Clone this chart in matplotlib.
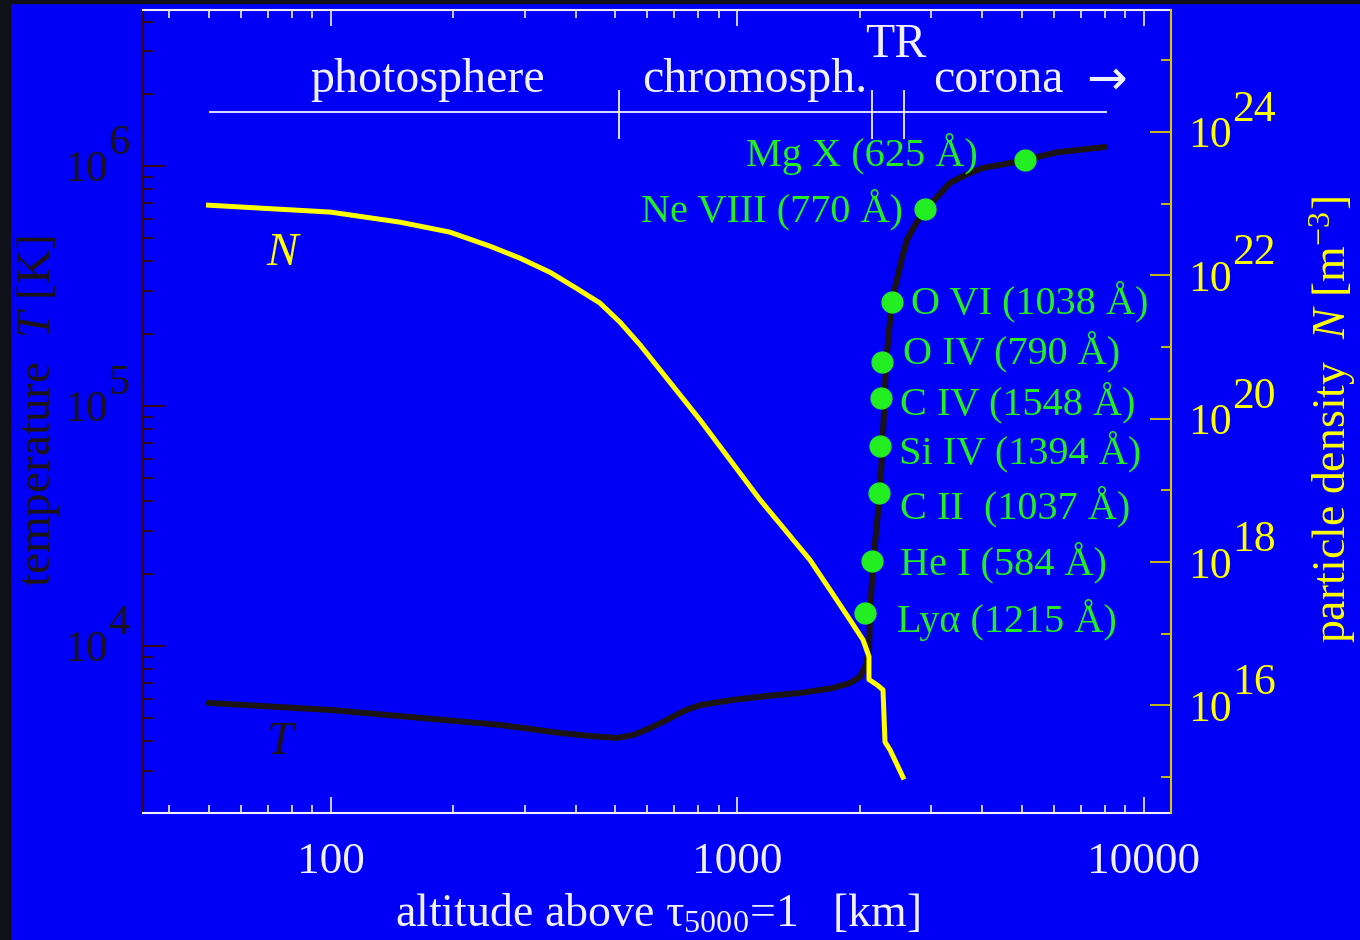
import numpy as np
import matplotlib
matplotlib.use('Agg')
import matplotlib.pyplot as plt
from matplotlib.ticker import LogLocator, FuncFormatter, NullFormatter, FixedLocator
from matplotlib.patches import Rectangle

plt.rcParams['font.family'] = ['Liberation Serif', 'DejaVu Serif']
plt.rcParams['mathtext.fontset'] = 'custom'
plt.rcParams['mathtext.rm'] = 'Liberation Serif'
plt.rcParams['mathtext.it'] = 'Liberation Serif:italic'
plt.rcParams['mathtext.bf'] = 'Liberation Serif:bold'

# ---------------- data ----------------
# temperature profile (altitude in km, T in K)
T_alt = [50, 100, 260, 366, 459, 506, 553, 610, 671, 738, 809, 975, 1182, 1426, 1719, 1893,
         2000, 2071, 2107, 2119, 2155, 2242, 2293, 2319, 2399, 2467, 2525, 2610, 2734,
         2893, 3097, 3333, 3632, 4019, 4424, 5096, 6109, 8017]
T_val = [5790, 5410, 4690, 4340, 4180, 4140, 4250, 4550, 4920, 5360, 5670, 5960, 6190, 6370,
         6680, 7010, 7430, 8330, 9620, 13700, 22200, 43400, 93500, 151000, 276700, 335000,
         398000, 492000, 568000, 656000, 743000, 850000, 917000, 982000, 1.01e6, 1.06e6,
         1.14e6, 1.2e6]

# particle density profile (altitude in km, N in m^-3)
N_alt = [50, 100, 148, 196, 246, 292, 346, 398, 459, 514, 576, 809, 1136, 1508, 1689, 1893,
         2037, 2106, 2106, 2204, 2280, 2306, 2373, 2553]
N_val = [9.5e22, 7.6e22, 5.5e22, 4.0e22, 2.55e22, 1.73e22, 1.1e22, 6.8e21, 4.1e21, 2.22e21,
         1.07e21, 9.6e19, 7.4e18, 1.07e18, 4.1e17, 1.55e17, 8.2e16, 4.8e16, 2.3e16, 1.94e16,
         1.65e16, 3.1e15, 2.4e15, 1.0e15]

# spectral lines and the temperature / altitude where they form
line_names = ['Mg X (625 Å)', 'Ne VIII (770 Å)', 'O VI (1038 Å)', 'O IV (790 Å)',
              'C IV (1548 Å)', 'Si IV (1394 Å)', 'C II  (1037 Å)', 'He I (584 Å)',
              'Lyα (1215 Å)']
line_alt = [5096, 2893, 2395, 2267, 2254, 2242, 2229, 2143, 2060]
line_T = [1.06e6, 6.6e5, 2.71e5, 1.52e5, 1.08e5, 6.8e4, 4.34e4, 2.26e4, 1.37e4]

# atmospheric regions
zone_names = ['photosphere', 'chromosph.', 'TR', 'corona', '→']
zone_bounds = [510, 2140, 2570]
zone_extent = [50, 8100]

N_major = [1e16, 1e18, 1e20, 1e22, 1e24]
N_minor = [1e15, 1e17, 1e19, 1e21, 1e23, 1e25]

# ---------------- style ----------------
BLUE = '#0000f6'
DARK = '#1c1414'
DARKRED = '#3a0a0a'
YEL = '#ffff00'
YEL_AX = '#d8c800'
GREEN = '#22ee22'
WHITE = '#f0f0ff'
FS = 31.5
PT = 0.72  # points per pixel at dpi 100

fig = plt.figure(figsize=(13.6, 9.4), dpi=100, facecolor=BLUE)
fig.patches.append(Rectangle((0, 0), 10 / 1360, 1, transform=fig.transFigure,
                             color='#101018', zorder=-5))
fig.patches.append(Rectangle((0, 1 - 3 / 940), 1, 3 / 940, transform=fig.transFigure,
                             color='#101018', zorder=-5))

L, R, T_, B = 143, 1171, 10, 813
ax = fig.add_axes([L / 1360, 1 - B / 940, (R - L) / 1360, (B - T_) / 940])
ax.set_facecolor(BLUE)
ax.set_xscale('log')
ax.set_yscale('log')
ax.set_xlim(34.5, 11650)
ax.set_ylim(10 ** 3.304, 10 ** 6.65)

ax2 = ax.twinx()
ax2.set_yscale('log')
ax2.set_ylim(10 ** 14.5, 10 ** 25.7)

# spines
ax.spines['left'].set_color(DARKRED)
ax.spines['bottom'].set_color(WHITE)
ax.spines['top'].set_color(WHITE)
ax.spines['right'].set_visible(False)
for s in ['left', 'top', 'bottom']:
    ax2.spines[s].set_visible(False)
ax2.spines['right'].set_color(YEL_AX)
for s in ax.spines.values():
    s.set_linewidth(1.5)
ax2.spines['right'].set_linewidth(1.5)

# x axis ticks
ax.xaxis.set_major_locator(LogLocator(base=10))
ax.xaxis.set_minor_locator(LogLocator(base=10, subs=np.arange(2, 10)))
ax.xaxis.set_major_formatter(FuncFormatter(lambda v, p: '%d' % round(v)))
ax.xaxis.set_minor_formatter(NullFormatter())
ax.tick_params(axis='x', which='major', direction='in', length=11.5, width=1.2,
               color=WHITE, labelcolor=WHITE, labelsize=FS + 1, pad=21, top=True)
ax.tick_params(axis='x', which='minor', direction='in', length=6, width=1.2,
               color=WHITE, top=True)

# left (temperature) axis: base "10" as tick label, exponent as a raised label
ax.yaxis.set_major_locator(LogLocator(base=10))
ax.yaxis.set_minor_locator(LogLocator(base=10, subs=np.arange(2, 10)))
ax.yaxis.set_major_formatter(FuncFormatter(lambda v, p: '10'))
ax.yaxis.set_minor_formatter(NullFormatter())
ax.tick_params(axis='y', which='major', direction='in', length=16.5, width=1.3,
               color=DARKRED, labelcolor=DARK, labelsize=FS, pad=35 * PT, right=False)
ax.tick_params(axis='y', which='minor', direction='in', length=8, width=1.3,
               color=DARKRED, right=False)
lo, hi = ax.get_ylim()
for v in ax.yaxis.get_majorticklocs():
    if lo <= v <= hi:
        ax.annotate('%d' % round(np.log10(v)), xy=(0, v), xycoords=('axes fraction', 'data'),
                    xytext=(-35 * PT, 22.5 * PT), textcoords='offset points',
                    ha='left', va='center', color=DARK, fontsize=FS - 1, annotation_clip=False)

# right (density) axis
ax2.yaxis.set_major_locator(FixedLocator(N_major))
ax2.yaxis.set_minor_locator(FixedLocator(N_minor))
ax2.yaxis.set_major_formatter(FuncFormatter(lambda v, p: '10'))
ax2.yaxis.set_minor_formatter(NullFormatter())
ax2.tick_params(axis='y', which='major', direction='in', length=15, width=1.3,
                color=YEL_AX, labelcolor=YEL, labelsize=FS, pad=17 * PT)
ax2.tick_params(axis='y', which='minor', direction='in', length=7.5, width=1.3,
                color=YEL_AX)
for v in N_major:
    ax2.annotate('%d' % round(np.log10(v)), xy=(1, v), xycoords=('axes fraction', 'data'),
                 xytext=(61 * PT, 22 * PT), textcoords='offset points',
                 ha='left', va='center', color=YEL, fontsize=FS, annotation_clip=False)

# curves
ax.plot(T_alt, T_val, color=DARK, lw=4.3, solid_capstyle='round', zorder=3)
ax2.plot(N_alt, N_val, color=YEL, lw=3.6, zorder=3)
ax2.set_zorder(ax.get_zorder() + 1)
ax2.patch.set_visible(False)

# spectral line markers and labels
ax.plot(line_alt, line_T, 'o', color=GREEN, ms=15, mec=GREEN, zorder=5, ls='none')
offsets = [(-34, 4, 'right'), (-16, 0, 'right'), (14, 0, 'left'), (15, 8, 'left'),
           (14, -3, 'left'), (14, -4, 'left'), (15, -10, 'left'), (20, -1, 'left'),
           (23, -5, 'left')]
for name, xa, ty, (dx, dy, ha) in zip(line_names, line_alt, line_T, offsets):
    ax.annotate(name, xy=(xa, ty), xytext=(dx, dy), textcoords='offset points',
                ha=ha, va='center', color=GREEN, fontsize=29, zorder=6)

# atmospheric region header
ax.hlines(1.68e6, zone_extent[0], zone_extent[1], color=WHITE, lw=1.3)
ax.vlines(zone_bounds, 1.3e6, 2.07e6, color=WHITE, lw=1.3)
ax.text(173, 2.28e6, zone_names[0], ha='center', va='center', color=WHITE, fontsize=34.5)
ax.text(1104, 2.28e6, zone_names[1], ha='center', va='center', color=WHITE, fontsize=34.5)
ax.text(2455, 3.2e6, zone_names[2], ha='center', va='center', color=WHITE, fontsize=34.5)
ax.text(3027, 2.28e6, zone_names[3], ha='left', va='center', color=WHITE, fontsize=34.5)
ax.text(7200, 2.3e6, zone_names[4], ha='left', va='center', color=WHITE, fontsize=35,
        family='DejaVu Sans')

# curve labels
ax.text(76, 4.3e5, 'N', style='italic', color=YEL, fontsize=34, ha='center', va='center')
ax.text(75, 3950, 'T', style='italic', color=DARK, fontsize=34, ha='center', va='center')

# axis labels
ax.set_xlabel(r'altitude above $\mathregular{\tau_{5000}}$=1   [km]', color=WHITE, fontsize=33)
ax.xaxis.set_label_coords(0.5, -0.127)
ax.xaxis.label.set_va('center')
ax.set_ylabel(r'temperature  $\mathit{T}$ [K]', color=DARK, fontsize=34)
ax.yaxis.set_label_coords(-0.102, 0.5)
ax.yaxis.label.set_va('center')
ax2.set_ylabel(r'particle density  $\mathit{N}$ [m$^{\mathregular{-3}}$]', color=YEL,
               fontsize=33, rotation=90)
ax2.yaxis.set_label_coords(1.157, 0.49)
ax2.yaxis.label.set_va('center')

fig.savefig('out.png', dpi=100, facecolor=fig.get_facecolor())
